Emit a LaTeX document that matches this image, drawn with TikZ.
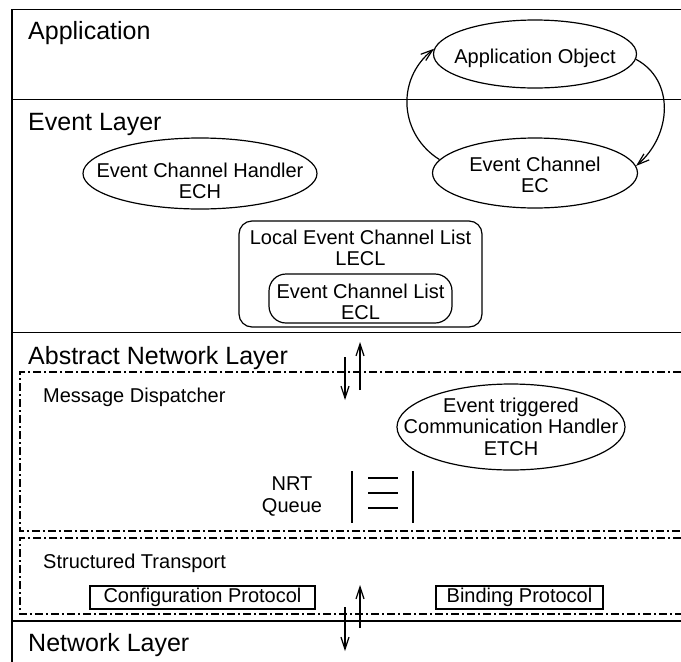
\documentclass[tikz,border=0pt]{standalone}
\usepackage{fontspec}
\setmainfont{Liberation Sans}
\usetikzlibrary{shapes.geometric,arrows.meta}

\tikzset{
  layerline/.style={line width=1.8pt},
  shapeline/.style={line width=1.2pt},
  titletext/.style={font=\fontsize{25}{28}\selectfont, anchor=base west, inner sep=0pt},
  subtitle/.style={font=\fontsize{20}{21.5}\selectfont, anchor=base west, inner sep=0pt},
  labeltext/.style={font=\fontsize{20}{21.5}\selectfont, align=center, inner sep=0pt},
  oval/.style={ellipse, draw, shapeline, inner sep=0pt},
  roundbox/.style={draw, shapeline, rounded corners=13pt, inner sep=0pt},
  protobox/.style={draw, shapeline, rectangle, inner sep=0pt,
    font=\fontsize{20}{21.5}\selectfont},
  dashdot/.style={line width=1.1pt, dash pattern=on 8pt off 3pt on 2pt off 3pt},
  flow/.style={shapeline, -{Straight Barb[length=12pt,width=8pt]}},
  queuebar/.style={line width=2.4pt},
  queueslot/.style={line width=2pt},
}

\begin{document}
\begin{tikzpicture}[x=1pt,y=-1pt]
\useasboundingbox (0,0) rectangle (681,662);

% layer frame
\draw[layerline] (12,662) -- (12,9.5) -- (681,9.5);
\draw[layerline] (12,99.5) -- (681,99.5);
\draw[layerline] (12,332.5) -- (681,332.5);
\draw[layerline] (12,621) -- (681,621);

% layer titles
\node[titletext] (tapp) at (28,39) {Application};
\node[titletext] (tevt) at (28,130) {Event Layer};
\node[titletext] (tanl) at (28,364) {Abstract Network Layer};
\node[titletext] (tnet) at (28,651) {Network Layer};

% application object and event channel
\node[oval, minimum width=203pt, minimum height=68pt] (ao) at (535,54) {};
\node[labeltext] (aot) at (535,58) {Application Object};
\node[oval, minimum width=205pt, minimum height=70pt] (ec) at (535,173) {};
\node[labeltext] (ect) at (535,175) {Event Channel\\EC};

\draw[flow] (ec.172) .. controls (400,135) and (395,80) .. (ao.177);
\draw[flow] (ao.357) .. controls (675,80) and (672,135) .. (ec.4);

% event channel handler
\node[oval, minimum width=234pt, minimum height=71pt] (ech) at (200,173.5) {};
\node[labeltext] (echt) at (200,180.6) {Event Channel Handler\\ECH};

% channel lists
\node[roundbox, minimum width=243pt, minimum height=106pt] (lecl) at (360.5,274) {};
\node[labeltext] (leclt) at (360.5,247.6) {Local Event Channel List\\LECL};
\node[roundbox, rounded corners=17pt, minimum width=183pt, minimum height=49pt] (ecl) at (360.5,298.5) {};
\node[labeltext] (eclt) at (360.5,301.6) {Event Channel List\\ECL};

% message dispatcher
\draw[dashdot] (681,372) -- (20,372) -- (20,531) -- (681,531);
\node[subtitle] (md) at (43,402) {Message Dispatcher};

\node[oval, minimum width=228pt, minimum height=86pt] (etch) at (511,427) {};
\node[labeltext] (etcht) at (511,426.4) {Event triggered\\Communication Handler\\ETCH};

\node[labeltext] (nrt) at (292,496.6) {NRT\\Queue};
\draw[queuebar] (352,471) -- (352,523);
\draw[queuebar] (413,471) -- (413,523);
\draw[queueslot] (368,478) -- (398,478);
\draw[queueslot] (368,493) -- (398,493);
\draw[queueslot] (368,508) -- (398,508);

% structured transport
\draw[dashdot] (681,538) -- (20,538) -- (20,614) -- (681,614);
\node[subtitle] (st) at (43,568) {Structured Transport};
\node[protobox, minimum width=225pt, minimum height=23pt] (cfg) at (202.5,597.5) {Configuration Protocol};
\node[protobox, minimum width=167pt, minimum height=23pt] (bind) at (519.5,597.5) {Binding Protocol};

% traffic between layers
\coordinate (d1s) at (345,357);
\coordinate (d1e) at (345,400);
\coordinate (u1s) at (360,390);
\coordinate (u1e) at (360,342);
\draw[flow] (d1s) -- (d1e);
\draw[flow] (u1s) -- (u1e);

\coordinate (d2s) at (345,607);
\coordinate (d2e) at (345,651);
\coordinate (u2s) at (360,628);
\coordinate (u2e) at (360,585);
\draw[flow] (d2s) -- (d2e);
\draw[flow] (u2s) -- (u2e);
\end{tikzpicture}
\end{document}
